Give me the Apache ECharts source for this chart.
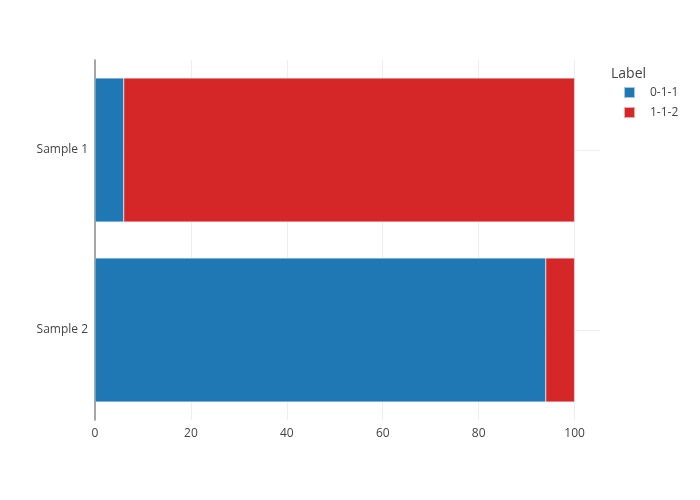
<!DOCTYPE html>
<html><head><meta charset="utf-8">
<script src="https://cdn.jsdelivr.net/npm/echarts@6/dist/echarts.min.js"></script>
<style>html,body{margin:0;padding:0;background:#fff}#c{width:700px;height:500px}</style>
</head><body><div id="c"></div>
<script>
const categories = ['Sample 1', 'Sample 2'];
const seriesNames = ['0-1-1', '1-1-2'];
const values011 = [6, 94];
const values112 = [94, 6];
const xTicks = [0, 20, 40, 60, 80, 100];
const colors = ['#1f77b4', '#d62728'];

const font = '"Open Sans", "DejaVu Sans", sans-serif';
const chart = echarts.init(document.getElementById('c'), null, {renderer: 'canvas'});
const barStyle = {borderColor: 'rgba(255,255,255,0.6)', borderWidth: 0.5};
chart.setOption({
  animation: false,
  backgroundColor: '#fff',
  textStyle: {fontFamily: font, color: '#444'},
  title: {text: 'Label', left: 611, top: 67, padding: 0, textStyle: {fontFamily: font, fontSize: 14, fontWeight: 'normal', color: '#444'}},
  legend: {
    orient: 'vertical', left: 618, top: 86, padding: [0, 5], itemWidth: 11, itemHeight: 11, itemGap: 7,
    icon: 'rect', textStyle: {fontFamily: font, fontSize: 12, color: '#444', padding: [0, 0, 0, 10]},
    data: seriesNames
  },
  grid: {left: 95, right: 100, top: 60, bottom: 80, containLabel: false},
  xAxis: [{
    type: 'value', min: xTicks[0], max: 105.3, interval: 20,
    axisLine: {show: false}, axisTick: {show: false},
    axisLabel: {showMaxLabel: false, fontFamily: font, fontSize: 12, color: '#444', margin: 8},
    splitLine: {show: true, showMaxLine: false, showMinLine: false, lineStyle: {color: '#eee', width: 1}}
  }],
  yAxis: [{
    type: 'category', data: categories, inverse: true,
    axisLine: {show: true, onZero: false, lineStyle: {color: '#888', width: 1.5}},
    axisTick: {show: false},
    axisLabel: {fontFamily: font, fontSize: 12, color: '#444', margin: 7},
    splitLine: {show: false}
  }, {
    type: 'value', min: 0, max: 4, interval: 1, inverse: true, show: true,
    axisLine: {show: false}, axisTick: {show: false}, axisLabel: {show: false},
    splitLine: {show: true, showMinLine: false, showMaxLine: false, lineStyle: {color: ['#eee', 'rgba(0,0,0,0)'], width: 1}}
  }],
  series: [
    {name: seriesNames[0], type: 'bar', stack: 's', data: values011, barWidth: '80%', itemStyle: Object.assign({color: colors[0]}, barStyle), z: 3},
    {name: seriesNames[1], type: 'bar', stack: 's', data: values112, barWidth: '80%', itemStyle: Object.assign({color: colors[1]}, barStyle), z: 3}
  ]
});
</script></body></html>
